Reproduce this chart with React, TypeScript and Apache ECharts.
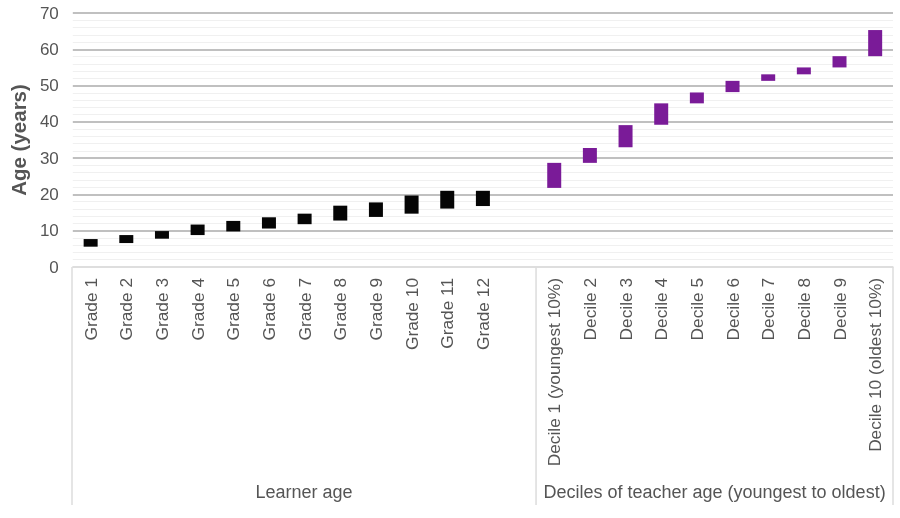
import React, { useEffect, useRef } from "react";
import * as echarts from "echarts";

const gradeLabels = ["Grade 1", "Grade 2", "Grade 3", "Grade 4", "Grade 5", "Grade 6", "Grade 7", "Grade 8", "Grade 9", "Grade 10", "Grade 11", "Grade 12"];
const gradeLow = [5.6, 6.6, 7.8, 8.8, 9.8, 10.6, 11.8, 12.8, 13.8, 14.7, 16.1, 16.8];
const gradeHigh = [7.7, 8.8, 9.9, 11.7, 12.7, 13.7, 14.7, 16.9, 17.8, 19.7, 21.0, 21.0];

const decileLabels = ["Decile 1 (youngest 10%)", "Decile 2", "Decile 3", "Decile 4", "Decile 5", "Decile 6", "Decile 7", "Decile 8", "Decile 9", "Decile 10 (oldest 10%)"];
const decileLow = [21.8, 28.7, 33.0, 39.2, 45.1, 48.2, 51.3, 53.1, 55.0, 58.1];
const decileHigh = [28.7, 32.8, 39.1, 45.1, 48.1, 51.3, 53.1, 55.0, 58.1, 65.3];

const groupNames = ["Learner age", "Deciles of teacher age (youngest to oldest)"];
const yTicks = { min: 0, max: 70, interval: 10 };

const FONT = "'Liberation Sans', Arial, Helvetica, sans-serif";
const BLACK = "#050505";
const PURPLE = "#7A1B98";

export default function App() {
  const ref = useRef<HTMLDivElement>(null);
  useEffect(() => {
    if (!ref.current) return;
    const chart = echarts.init(ref.current, undefined, { renderer: "svg" });
    const W = 900, H = 518;
    const left = 72, right = 7, top = 13, bottom = 251;
    const categories = [...gradeLabels, "", ...decileLabels];
    const nLearner = gradeLabels.length + 1;
    const nAll = categories.length;
    const base: (number | null)[] = [];
    const range: any[] = [];
    gradeLabels.forEach((_, i) => {
      base.push(gradeLow[i]);
      range.push({ value: +(gradeHigh[i] - gradeLow[i]).toFixed(2), itemStyle: { color: BLACK } });
    });
    base.push(null);
    range.push(null);
    decileLabels.forEach((_, i) => {
      base.push(decileLow[i]);
      range.push({ value: +(decileHigh[i] - decileLow[i]).toFixed(2), itemStyle: { color: PURPLE } });
    });
    const gw = W - left - right;
    const xDiv = left + (gw * nLearner) / nAll;
    const frameTop = H - bottom;
    const frameBottom = 505;
    const lineStyle = { stroke: "#dcdcdc", lineWidth: 1.5 };
    const splitColors = ["#dcdcdc"];
    for (let v = yTicks.min + yTicks.interval; v <= yTicks.max; v += yTicks.interval) splitColors.push("#ababab");

    chart.setOption({
      animation: false,
      grid: { left, right, top, bottom, containLabel: false },
      xAxis: {
        type: "category",
        data: categories,
        axisTick: { show: false },
        axisLine: { lineStyle: { color: "#dcdcdc", width: 1.5 } },
        axisLabel: { rotate: 90, interval: 0, fontSize: 17.3, color: "#555", margin: 11, fontFamily: FONT },
      },
      yAxis: {
        type: "value",
        min: yTicks.min,
        max: yTicks.max,
        interval: yTicks.interval,
        name: "Age (years)",
        nameLocation: "middle",
        nameGap: 40,
        nameTextStyle: { fontSize: 20.5, fontWeight: "bold", color: "#555", fontFamily: FONT },
        axisLine: { show: false },
        axisTick: { show: false },
        axisLabel: { fontSize: 17, color: "#555", margin: 14, fontFamily: FONT },
        splitLine: { lineStyle: { color: splitColors, width: 1.5 } },
        minorTick: { show: false, splitNumber: 5 },
        minorSplitLine: { show: true, lineStyle: { color: "#f0f0f0", width: 1 } },
      },
      series: [
        { type: "bar", stack: "r", data: base, barWidth: 14, itemStyle: { color: "transparent" }, silent: true },
        { type: "bar", stack: "r", data: range, barWidth: 14 },
      ],
      graphic: [
        { type: "line", shape: { x1: left, y1: frameTop, x2: left, y2: frameBottom }, style: lineStyle },
        { type: "line", shape: { x1: xDiv, y1: frameTop, x2: xDiv, y2: frameBottom }, style: lineStyle },
        { type: "line", shape: { x1: W - right, y1: frameTop, x2: W - right, y2: frameBottom }, style: lineStyle },
        {
          type: "text", x: (left + xDiv) / 2, y: 492,
          style: { text: groupNames[0], fontSize: 18, fill: "#555", fontFamily: FONT, align: "center", verticalAlign: "middle" },
        },
        {
          type: "text", x: (xDiv + W - right) / 2, y: 492,
          style: { text: groupNames[1], fontSize: 18, fill: "#555", fontFamily: FONT, align: "center", verticalAlign: "middle" },
        },
      ],
    });
    return () => chart.dispose();
  }, []);
  return <div ref={ref} style={{ position: "fixed", left: 0, top: 0, width: 900, height: 518 }} />;
}
